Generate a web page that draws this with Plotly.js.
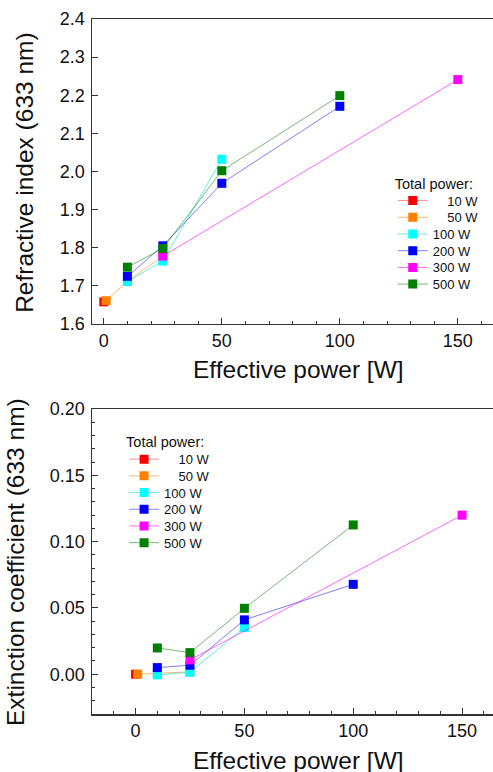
<!DOCTYPE html>
<html>
<head>
<meta charset="utf-8">
<script src="https://cdn.plot.ly/plotly-3.0.1.min.js"></script>
<style>html,body{margin:0;padding:0;background:#fff;}#chart{width:493px;height:772px;}</style>
</head>
<body>
<div id="chart"></div>
<script>
// Series (total power) labels, padded with figure spaces for right alignment
const seriesNames = ['\u2007\u200710 W', '\u2007\u200750 W', '100 W', '200 W', '300 W', '500 W'];
const seriesColors = ['#ff0000', '#ff8000', '#00ffff', '#0000ff', '#ff00ff', '#008000'];
const lineColors = ['rgba(255,0,0,0.45)', 'rgba(255,128,0,0.55)', 'rgba(0,220,220,0.6)', 'rgba(0,0,255,0.5)', 'rgba(255,0,255,0.6)', 'rgba(0,128,0,0.55)'];

// Effective power [W] for each series
const effPower10 = [0];
const effPower50 = [1, 10, 25];
const effPower100 = [10, 25, 50];
const effPower200 = [10, 25, 50, 100];
const effPower300 = [25, 150];
const effPower500 = [10, 25, 50, 100];

// Refractive index (633 nm)
const nIndex10 = [1.658];
const nIndex50 = [1.661, 1.712, 1.778];
const nIndex100 = [1.711, 1.765, 2.032];
const nIndex200 = [1.725, 1.805, 1.969, 2.171];
const nIndex300 = [1.778, 2.241];
const nIndex500 = [1.749, 1.798, 2.002, 2.199];

// Extinction coefficient (633 nm)
const kExt10 = [0.0];
const kExt50 = [0.0, 0.0005, 0.0018];
const kExt100 = [-0.0005, 0.0015, 0.0352];
const kExt200 = [0.005, 0.0068, 0.041, 0.0678];
const kExt300 = [0.0108, 0.120];
const kExt500 = [0.0198, 0.0163, 0.0497, 0.1126];

const xTop = [effPower10, effPower50, effPower100, effPower200, effPower300, effPower500];
const yTop = [nIndex10, nIndex50, nIndex100, nIndex200, nIndex300, nIndex500];
const yBot = [kExt10, kExt50, kExt100, kExt200, kExt300, kExt500];

const FONT = 'Liberation Sans, Arial, sans-serif';
const traces = [];
for (let i = 0; i < seriesNames.length; i++) {
  traces.push({
    type: 'scatter', mode: 'lines+markers', name: seriesNames[i],
    x: xTop[i], y: yTop[i], xaxis: 'x', yaxis: 'y', legend: 'legend',
    line: {color: lineColors[i], width: 1},
    marker: {symbol: 'square', size: 9, color: seriesColors[i], line: {width: 0}}
  });
}
for (let i = 0; i < seriesNames.length; i++) {
  traces.push({
    type: 'scatter', mode: 'lines+markers', name: seriesNames[i],
    x: xTop[i], y: yBot[i], xaxis: 'x2', yaxis: 'y2', legend: 'legend2',
    line: {color: lineColors[i], width: 1},
    marker: {symbol: 'square', size: 9, color: seriesColors[i], line: {width: 0}}
  });
}

const axisCommon = {
  showgrid: false, zeroline: false, showline: true, linecolor: '#333', linewidth: 1.5,
  ticks: 'inside', ticklen: 6, tickwidth: 1, tickcolor: '#333',
  tickfont: {family: FONT, size: 18, color: '#111'}
};
const titleFont = {family: FONT, size: 24.5, color: '#111'};

const layout = {
  width: 493, height: 772,
  margin: {l: 92, r: 0, t: 19, b: 58},
  paper_bgcolor: '#fff', plot_bgcolor: '#fff',
  font: {family: FONT, color: '#111'},
  xaxis: Object.assign({}, axisCommon, {
    domain: [0, 1], anchor: 'y', range: [-5, 164.9], tick0: 0, dtick: 50, mirror: true,
    minor: {dtick: 10, tick0: 0, ticks: 'inside', ticklen: 3, tickcolor: '#333'}
  }),
  yaxis: Object.assign({}, axisCommon, {
    domain: [0.5612, 1], anchor: 'x', range: [1.6, 2.4], tick0: 1.6, dtick: 0.1, tickformat: '.1f',
    ticklabelstandoff: 2
  }),
  xaxis2: Object.assign({}, axisCommon, {
    domain: [0, 1], anchor: 'y2', range: [-20, 164.2], tick0: 0, dtick: 50, mirror: true,
    minor: {dtick: 10, tick0: 0, ticks: 'inside', ticklen: 3, tickcolor: '#333'}
  }),
  yaxis2: Object.assign({}, axisCommon, {
    domain: [0, 0.4388], anchor: 'x2', range: [-0.03, 0.2], tick0: 0, dtick: 0.05, tickformat: '.2f',
    ticklabelstandoff: 2,
    minor: {dtick: 0.01, tick0: 0, ticks: 'inside', ticklen: 3, tickcolor: '#333'}
  }),
  annotations: [
    {text: 'Effective power [W]', xref: 'paper', yref: 'paper', x: 0.514, y: 0.495,
     xanchor: 'center', yanchor: 'middle', showarrow: false, font: titleFont},
    {text: 'Effective power [W]', xref: 'paper', yref: 'paper', x: 0.514, y: -0.0662,
     xanchor: 'center', yanchor: 'middle', showarrow: false, font: titleFont},
    {text: 'Refractive index (633 nm)', xref: 'paper', yref: 'paper', x: -0.17, y: 0.7798,
     xanchor: 'center', yanchor: 'middle', showarrow: false, textangle: -90, font: titleFont},
    {text: 'Extinction coefficient (633 nm)', xref: 'paper', yref: 'paper', x: -0.192, y: 0.2187,
     xanchor: 'center', yanchor: 'middle', showarrow: false, textangle: -90, font: titleFont}
  ],
  legend: {
    x: 0.75, y: 0.783, xanchor: 'left', yanchor: 'top', bgcolor: 'rgba(0,0,0,0)',
    font: {family: FONT, size: 13, color: '#111'},
    title: {text: 'Total power:', font: {family: FONT, size: 14.5, color: '#111'}},
    tracegroupgap: 0, itemwidth: 30
  },
  legend2: {
    x: 0.08, y: 0.411, xanchor: 'left', yanchor: 'top', bgcolor: 'rgba(0,0,0,0)',
    font: {family: FONT, size: 13, color: '#111'},
    title: {text: 'Total power:', font: {family: FONT, size: 14.5, color: '#111'}},
    tracegroupgap: 0, itemwidth: 30
  },
  showlegend: true
};

Plotly.newPlot('chart', traces, layout, {staticPlot: true, displayModeBar: false}).then(function (gd) {
  // Tighten legend row spacing to match the reference (~16.7 px per row)
  gd.querySelectorAll('g.legend, g.legend2, g[class^="legend"]').forEach(function (lg) {
    const items = lg.querySelectorAll('g.traces');
    if (!items.length) return;
    const m0 = /translate\(([-\d.]+),\s*([-\d.]+)\)/.exec(items[0].getAttribute('transform') || '');
    if (!m0) return;
    const x0 = parseFloat(m0[1]), y0 = parseFloat(m0[2]) - 3;
    items.forEach(function (it, i) {
      it.setAttribute('transform', 'translate(' + x0 + ',' + (y0 + i * 16.7) + ')');
    });
  });
});
</script>
</body>
</html>
